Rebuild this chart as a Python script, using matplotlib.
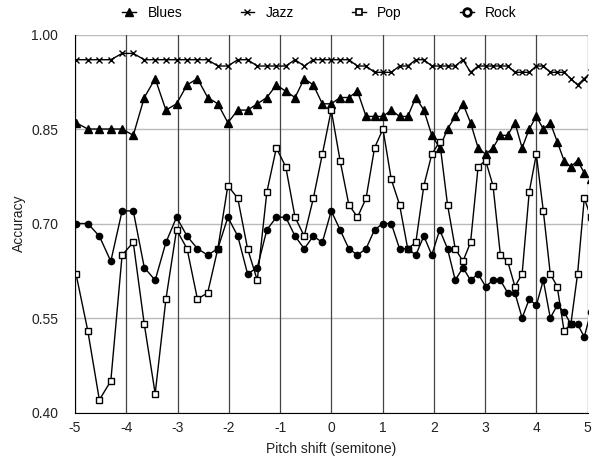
import matplotlib
matplotlib.use("Agg")
import matplotlib.pyplot as plt
import numpy as np
from matplotlib.lines import Line2D

plt.rcParams["font.family"] = ["Liberation Sans", "DejaVu Sans"]

# pitch factor of each sample (converted to semitones below)
ratios = [0.75, 0.76, 0.77, 0.78, 0.79, 0.80, 0.81, 0.82, 0.83, 0.84,
          0.85, 0.86, 0.87, 0.88, 0.89, 0.90, 0.91, 0.92, 0.93, 0.94,
          0.95, 0.96, 0.97, 0.98, 0.99, 1.00, 1.01, 1.02, 1.03, 1.04,
          1.05, 1.06, 1.07, 1.08, 1.09, 1.10, 1.11, 1.12, 1.13, 1.14,
          1.15, 1.16, 1.17, 1.18, 1.19, 1.20, 1.21, 1.22, 1.23, 1.24,
          1.25, 1.26, 1.27, 1.28, 1.29, 1.30, 1.31, 1.32, 1.33, 1.34]

blues = [0.86, 0.85, 0.85, 0.85, 0.85, 0.84, 0.90, 0.93, 0.88, 0.89,
         0.92, 0.93, 0.90, 0.89, 0.86, 0.88, 0.88, 0.89, 0.90, 0.92,
         0.91, 0.90, 0.93, 0.92, 0.89, 0.89, 0.90, 0.90, 0.91, 0.87,
         0.87, 0.87, 0.88, 0.87, 0.87, 0.90, 0.88, 0.84, 0.82, 0.85,
         0.87, 0.89, 0.86, 0.82, 0.81, 0.82, 0.84, 0.84, 0.86, 0.82,
         0.85, 0.87, 0.85, 0.86, 0.83, 0.80, 0.79, 0.80, 0.78, 0.77]

jazz = [0.96, 0.96, 0.96, 0.96, 0.97, 0.97, 0.96, 0.96, 0.96, 0.96,
        0.96, 0.96, 0.96, 0.95, 0.95, 0.96, 0.96, 0.95, 0.95, 0.95,
        0.95, 0.96, 0.95, 0.96, 0.96, 0.96, 0.96, 0.96, 0.95, 0.95,
        0.94, 0.94, 0.94, 0.95, 0.95, 0.96, 0.96, 0.95, 0.95, 0.95,
        0.95, 0.96, 0.94, 0.95, 0.95, 0.95, 0.95, 0.95, 0.94, 0.94,
        0.94, 0.95, 0.95, 0.94, 0.94, 0.94, 0.93, 0.92, 0.93, 0.94]

pop = [0.62, 0.53, 0.42, 0.45, 0.65, 0.67, 0.54, 0.43, 0.58, 0.69,
       0.66, 0.58, 0.59, 0.66, 0.76, 0.74, 0.66, 0.61, 0.75, 0.82,
       0.79, 0.71, 0.68, 0.74, 0.81, 0.88, 0.80, 0.73, 0.71, 0.74,
       0.82, 0.85, 0.77, 0.73, 0.66, 0.67, 0.76, 0.81, 0.83, 0.73,
       0.66, 0.64, 0.67, 0.79, 0.80, 0.76, 0.65, 0.64, 0.60, 0.62,
       0.75, 0.81, 0.72, 0.62, 0.60, 0.53, 0.54, 0.62, 0.74, 0.71]

rock = [0.70, 0.70, 0.68, 0.64, 0.72, 0.72, 0.63, 0.61, 0.67, 0.71,
        0.68, 0.66, 0.65, 0.66, 0.71, 0.68, 0.62, 0.63, 0.69, 0.71,
        0.71, 0.68, 0.66, 0.68, 0.67, 0.72, 0.69, 0.66, 0.65, 0.66,
        0.69, 0.70, 0.70, 0.66, 0.66, 0.65, 0.68, 0.65, 0.69, 0.66,
        0.61, 0.63, 0.61, 0.62, 0.60, 0.61, 0.61, 0.59, 0.59, 0.55,
        0.58, 0.57, 0.61, 0.55, 0.57, 0.56, 0.54, 0.54, 0.52, 0.56]

x_ticks = [-5, -4, -3, -2, -1, 0, 1, 2, 3, 4, 5]
y_ticks = [0.40, 0.55, 0.70, 0.85, 1.00]

semitones = 12 * np.log2(np.array(ratios))

fig = plt.figure(figsize=(5.92, 4.59), dpi=100)
ax = fig.add_axes([0.1267, 0.1013, 0.9924 - 0.1267, 0.9248 - 0.1013])

lw = 1.0
ax.plot(semitones, blues, color="black", lw=lw, marker="^", ms=6,
        mfc="black", mec="black", clip_on=True)
ax.plot(semitones, jazz, color="black", lw=lw, marker="x", ms=5,
        mew=1.0, clip_on=True)
ax.plot(semitones, pop, color="black", lw=lw, marker="s", ms=4.5,
        mfc="white", mec="black", mew=1.0, clip_on=True)
ax.plot(semitones, rock, color="black", lw=lw, marker="o", ms=4.5,
        mfc="black", mec="black", clip_on=True)

ax.set_xlim(-5, 5)
ax.set_ylim(0.40, 1.00)
ax.set_xticks(x_ticks)
ax.set_xticklabels([str(t) for t in x_ticks])
ax.set_yticks(y_ticks)
ax.set_yticklabels([f"{t:.2f}" for t in y_ticks])

# gridlines: light horizontals, dark verticals
for y in y_ticks:
    ax.axhline(y, color="#bbbbbb", lw=1.0, zorder=0)
for x in x_ticks:
    ax.axvline(x, color="#444444", lw=0.9, zorder=0)

for side in ["top", "right"]:
    ax.spines[side].set_visible(False)
ax.spines["left"].set_color("black")
ax.spines["bottom"].set_color("black")
ax.tick_params(axis="both", length=0, labelsize=10, colors="#222222")
ax.tick_params(axis="x", pad=6)
ax.tick_params(axis="y", pad=12)

ax.set_xlabel("Pitch shift (semitone)", fontsize=10, labelpad=5, color="#222222")
ax.set_ylabel("Accuracy", fontsize=10, labelpad=4, color="#222222")

handles = [
    Line2D([], [], color="black", lw=lw, marker="^", ms=6, mfc="black"),
    Line2D([], [], color="black", lw=lw, marker="x", ms=5, mew=1.0),
    Line2D([], [], color="black", lw=lw, marker="s", ms=5, mfc="white", mew=1.2),
    Line2D([], [], color="black", lw=lw, marker="o", ms=5.5, mfc="white", mew=2.0),
]
fig.legend(handles, ["Blues", "Jazz", "Pop", "Rock"], loc="center",
           bbox_to_anchor=(0.54, 0.972), ncol=4, frameon=False,
           fontsize=10, handlelength=1.0, columnspacing=4.2, handletextpad=0.8)

fig.savefig("out.png", dpi=100)
